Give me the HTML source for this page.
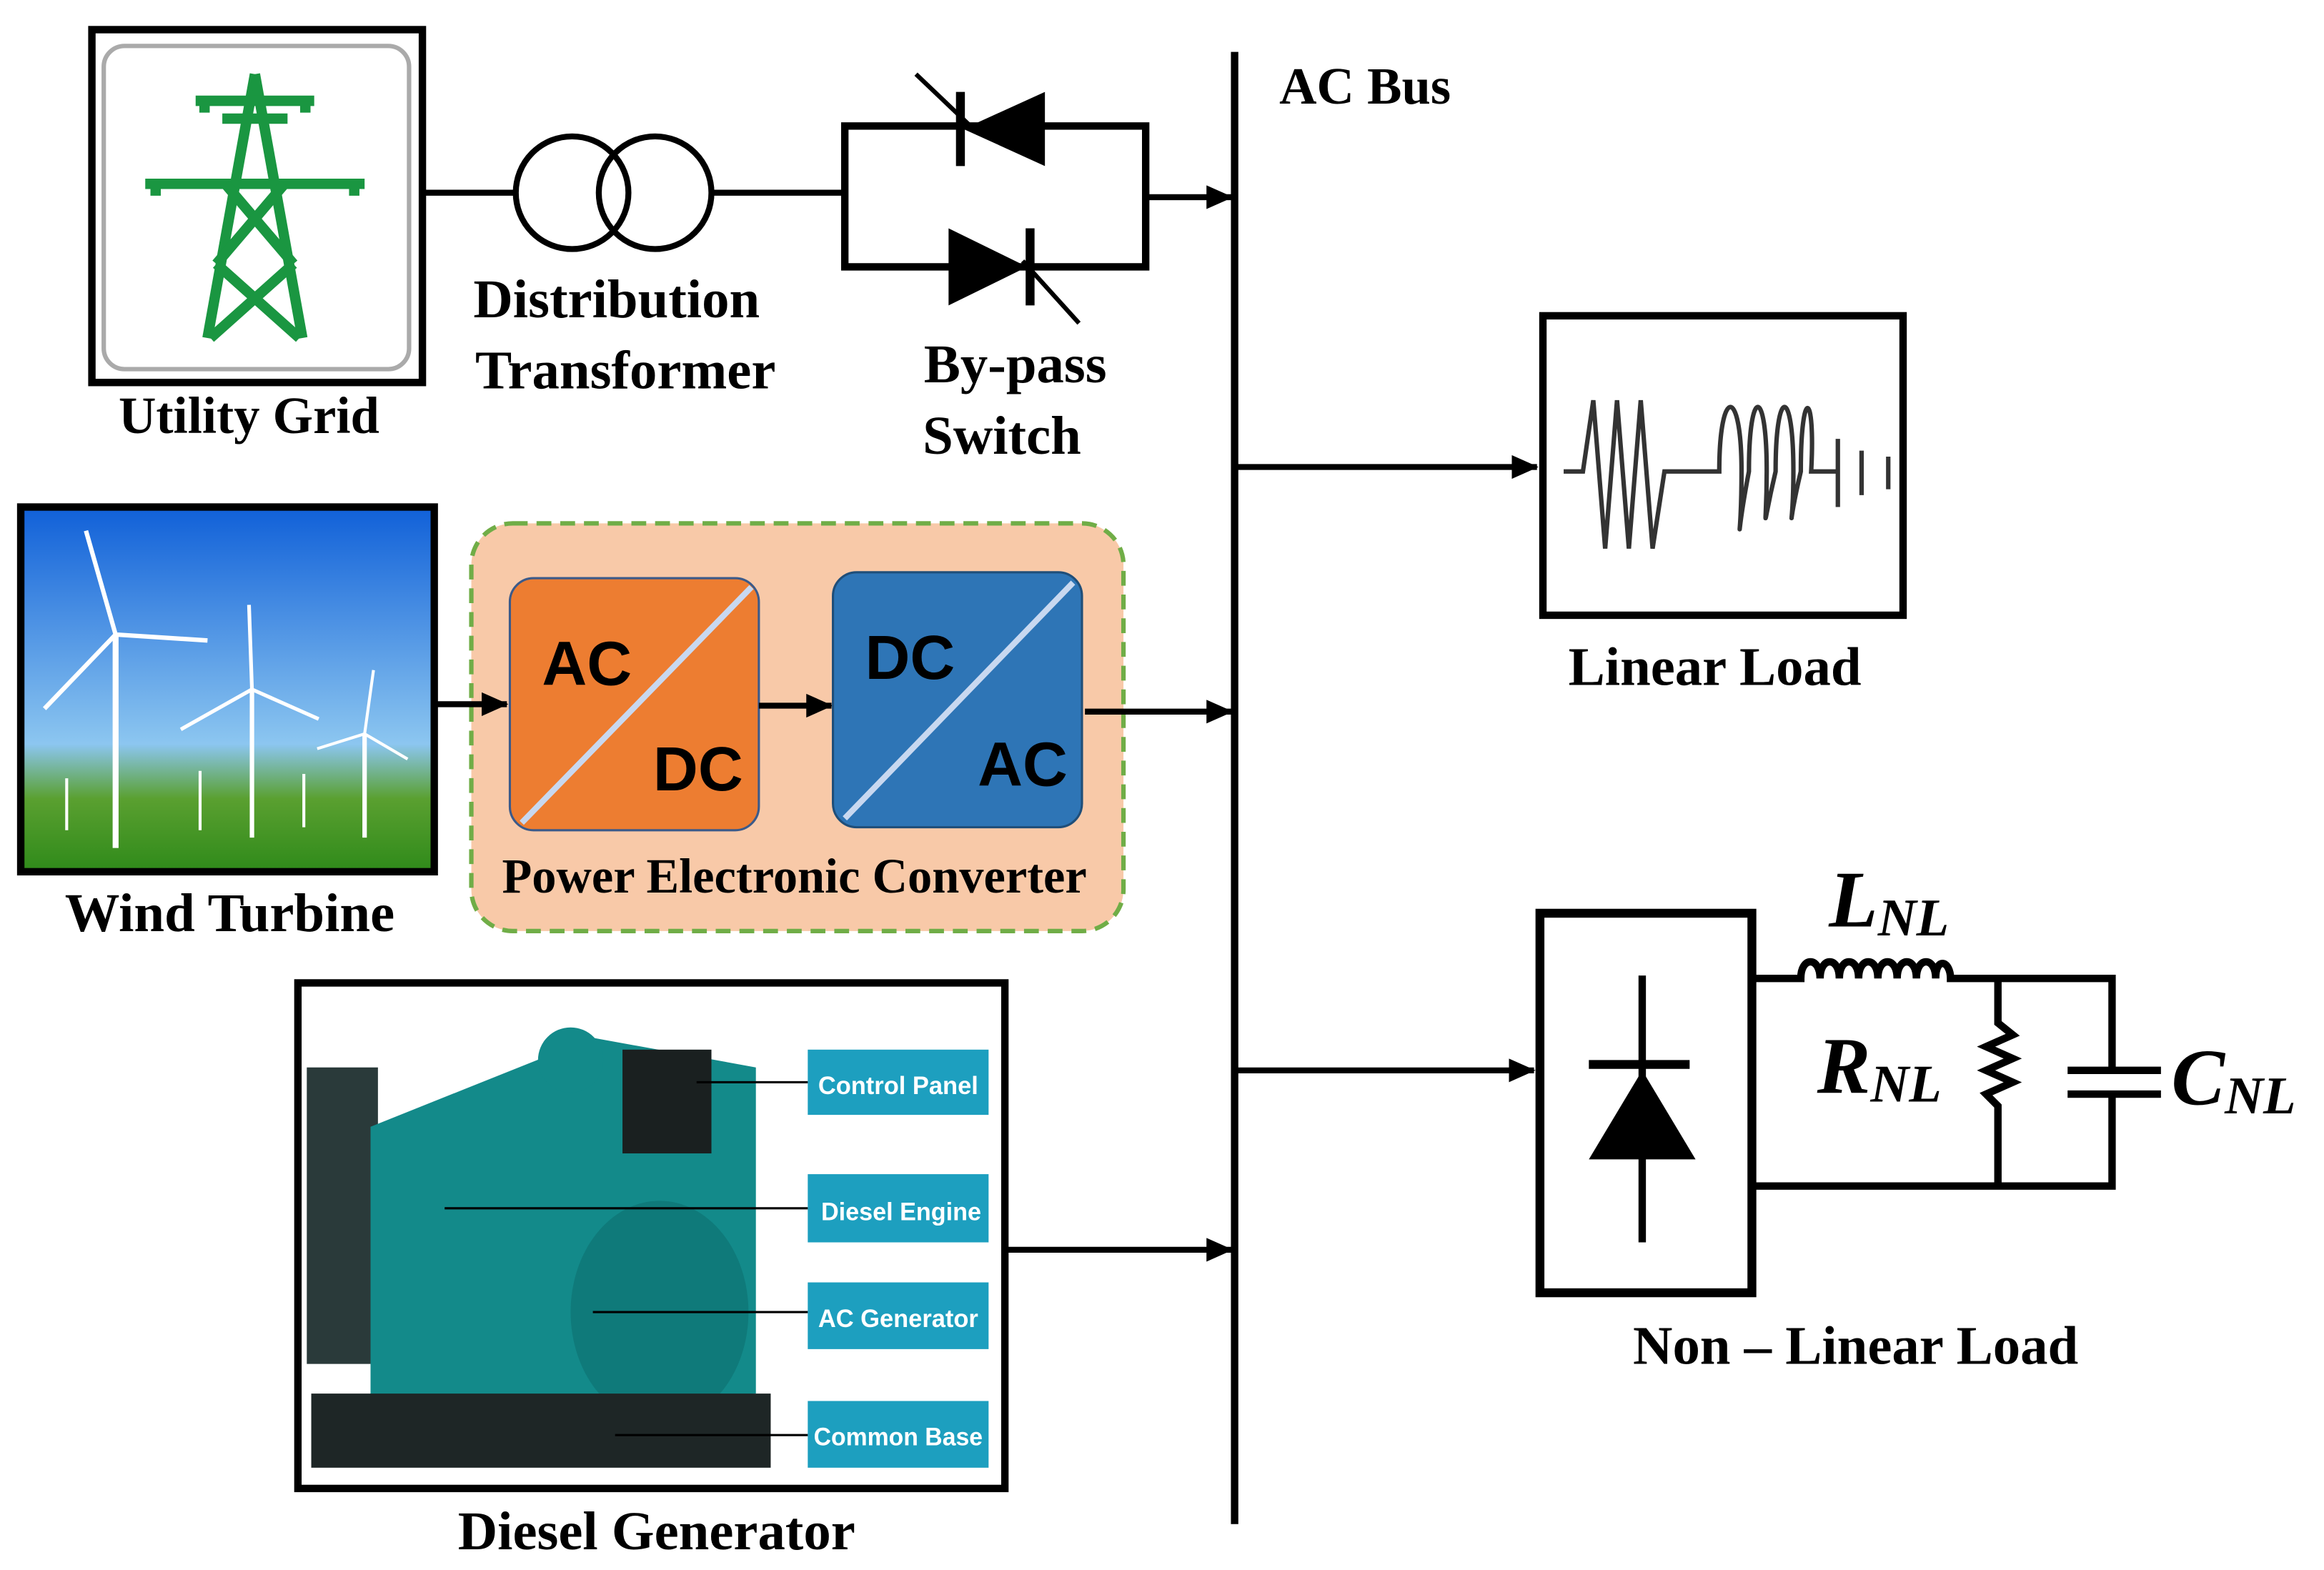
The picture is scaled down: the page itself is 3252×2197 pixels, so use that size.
<!DOCTYPE html>
<html><head><meta charset="utf-8"><style>
html,body{margin:0;padding:0;background:#fff;}
svg{display:block;}
.t{font-family:"Liberation Serif",serif;font-weight:bold;fill:#000;}
.s{font-family:"Liberation Sans",sans-serif;font-weight:bold;}
</style></head><body>
<svg width="3252" height="2197" viewBox="0 0 1568 1059" preserveAspectRatio="none" xmlns="http://www.w3.org/2000/svg">
<defs>
<marker id="ar2" markerWidth="18" markerHeight="16" refX="17" refY="8" orient="auto" markerUnits="userSpaceOnUse"><path d="M0,0 L18,8 L0,16 z" fill="#000"/></marker>
<linearGradient id="sky" x1="0" y1="0" x2="0" y2="1"><stop offset="0" stop-color="#1060d8"/><stop offset="0.65" stop-color="#8cc6f0"/><stop offset="0.8" stop-color="#5aa030"/><stop offset="1" stop-color="#2f8a1a"/></linearGradient>
</defs>
<!-- Utility grid -->
<rect x="62" y="20" width="223" height="238" fill="#fff" stroke="#000" stroke-width="5"/>
<rect x="70" y="31" width="206" height="218" rx="14" fill="#fff" stroke="#aaa" stroke-width="3"/>
<g stroke="#1a9641" stroke-width="7" fill="none">
<line x1="172" y1="50" x2="140" y2="228"/><line x1="172" y1="50" x2="204" y2="228"/>
<line x1="98" y1="124" x2="246" y2="124"/><line x1="132" y1="68" x2="212" y2="68"/>
<line x1="152" y1="124" x2="198" y2="178"/><line x1="192" y1="124" x2="146" y2="178"/>
<line x1="146" y1="178" x2="202" y2="228"/><line x1="198" y1="178" x2="142" y2="228"/>
<line x1="150" y1="80" x2="194" y2="80"/>
<line x1="105" y1="124" x2="105" y2="132"/><line x1="239" y1="124" x2="239" y2="132"/>
<line x1="138" y1="68" x2="138" y2="76"/><line x1="206" y1="68" x2="206" y2="76"/>
</g>
<text class="t" x="168" y="292" font-size="35" text-anchor="middle">Utility Grid</text>
<!-- transformer -->
<line x1="287" y1="130" x2="347" y2="130" stroke="#000" stroke-width="4"/>
<circle cx="386" cy="130" r="38" fill="none" stroke="#000" stroke-width="4"/>
<circle cx="442" cy="130" r="38" fill="none" stroke="#000" stroke-width="4"/>
<line x1="480" y1="130" x2="570" y2="130" stroke="#000" stroke-width="4"/>
<text class="t" x="416" y="214" font-size="37" text-anchor="middle">Distribution</text>
<text class="t" x="422" y="262" font-size="37" text-anchor="middle">Transformer</text>
<!-- bypass -->
<rect x="570" y="85" width="203" height="95" fill="none" stroke="#000" stroke-width="5"/>
<path d="M705,62 L705,112 L650,87 z" fill="#000"/><line x1="648" y1="62" x2="648" y2="112" stroke="#000" stroke-width="6"/>
<line x1="618" y1="50" x2="660" y2="90" stroke="#000" stroke-width="3"/>
<path d="M640,154 L640,206 L693,180 z" fill="#000"/><line x1="695" y1="154" x2="695" y2="206" stroke="#000" stroke-width="6"/>
<line x1="690" y1="176" x2="728" y2="218" stroke="#000" stroke-width="3"/>
<line x1="773" y1="133" x2="831" y2="133" stroke="#000" stroke-width="4" marker-end="url(#ar2)"/>
<text class="t" x="685" y="258" font-size="37" text-anchor="middle">By-pass</text>
<text class="t" x="676" y="306" font-size="37" text-anchor="middle">Switch</text>
<!-- AC bus -->
<line x1="833" y1="35" x2="833" y2="1028" stroke="#000" stroke-width="5"/>
<text class="t" x="921" y="70" font-size="35" text-anchor="middle">AC Bus</text>
<!-- linear load -->
<line x1="835" y1="315" x2="1037" y2="315" stroke="#000" stroke-width="4" marker-end="url(#ar2)"/>
<rect x="1041" y="213" width="243" height="202" fill="#fff" stroke="#000" stroke-width="5"/>
<path d="M1055,318 L1068,318 L1075,270 L1083,370 L1091,270 L1099,370 L1107,270 L1115,370 L1123,318 L1160,318 C1160,260 1175,260 1175,318 C1175,370 1170,370 1180,318 C1180,260 1192,260 1192,318 C1192,360 1188,360 1198,318 C1198,260 1210,260 1210,318 C1210,360 1205,360 1215,318 C1215,260 1225,262 1222,318 L1240,318" fill="none" stroke="#333" stroke-width="3"/>
<line x1="1240" y1="296" x2="1240" y2="342" stroke="#333" stroke-width="3"/><line x1="1256" y1="304" x2="1256" y2="334" stroke="#333" stroke-width="3"/><line x1="1274" y1="308" x2="1274" y2="330" stroke="#333" stroke-width="3"/>
<text class="t" x="1157" y="462" font-size="37" text-anchor="middle">Linear Load</text>
<!-- wind -->
<rect x="14" y="342" width="279" height="246" fill="url(#sky)" stroke="#000" stroke-width="5"/>
<g stroke="#fff" fill="none">
<line x1="78" y1="428" x2="78" y2="572" stroke-width="4"/><path d="M78,428 L58,358 M78,428 L140,432 M78,428 L30,478" stroke-width="3"/>
<line x1="170" y1="465" x2="170" y2="565" stroke-width="3"/><path d="M170,465 L168,408 M170,465 L215,485 M170,465 L122,492" stroke-width="2.5"/>
<line x1="246" y1="495" x2="246" y2="565" stroke-width="3"/><path d="M246,495 L252,452 M246,495 L275,512 M246,495 L214,505" stroke-width="2"/>
<line x1="135" y1="520" x2="135" y2="560" stroke-width="2"/><line x1="205" y1="522" x2="205" y2="558" stroke-width="2"/><line x1="45" y1="525" x2="45" y2="560" stroke-width="2"/>
</g>
<text class="t" x="155" y="628" font-size="37" text-anchor="middle">Wind Turbine</text>
<!-- converter -->
<rect x="318" y="353" width="440" height="275" rx="28" fill="#f8c9a8" stroke="#70ad47" stroke-width="3" stroke-dasharray="10,6"/>
<line x1="295" y1="475" x2="342" y2="475" stroke="#000" stroke-width="4" marker-end="url(#ar2)"/>
<rect x="344" y="390" width="168" height="170" rx="16" fill="#ed7d31" stroke="#3b5a8a" stroke-width="1.5"/>
<line x1="352" y1="555" x2="507" y2="396" stroke="#c8d8f0" stroke-width="4"/>
<text class="s" x="396" y="462" font-size="42" text-anchor="middle" fill="#000">AC</text>
<text class="s" x="471" y="533" font-size="42" text-anchor="middle" fill="#000">DC</text>
<line x1="512" y1="476" x2="561" y2="476" stroke="#000" stroke-width="4" marker-end="url(#ar2)"/>
<rect x="562" y="386" width="168" height="172" rx="16" fill="#2e75b6" stroke="#1f4e79" stroke-width="1.5"/>
<line x1="570" y1="552" x2="724" y2="393" stroke="#c8d8f0" stroke-width="4"/>
<text class="s" x="614" y="458" font-size="42" text-anchor="middle" fill="#000">DC</text>
<text class="s" x="690" y="530" font-size="42" text-anchor="middle" fill="#000">AC</text>
<line x1="732" y1="480" x2="831" y2="480" stroke="#000" stroke-width="4" marker-end="url(#ar2)"/>
<text class="t" x="536" y="602" font-size="33" text-anchor="middle">Power Electronic Converter</text>
<!-- diesel -->
<rect x="201" y="663" width="477" height="341" fill="#fff" stroke="#000" stroke-width="5"/>
<rect x="207" y="720" width="48" height="200" fill="#2a3a3a"/>
<path d="M250,760 L400,700 L510,720 L510,940 L250,960 z" fill="#138a8a"/>
<ellipse cx="445" cy="885" rx="60" ry="75" fill="#0f7a7a"/>
<rect x="420" y="708" width="60" height="70" fill="#1a2020"/>
<rect x="210" y="940" width="310" height="50" fill="#1e2626"/>
<circle cx="385" cy="715" r="22" fill="#138a8a"/>
<rect x="545" y="708" width="122" height="44" fill="#1d9fbf"/>
<rect x="545" y="792" width="122" height="46" fill="#1d9fbf"/>
<rect x="545" y="865" width="122" height="45" fill="#1d9fbf"/>
<rect x="545" y="945" width="122" height="45" fill="#1d9fbf"/>
<g stroke="#000" stroke-width="1.5"><line x1="470" y1="730" x2="545" y2="730"/><line x1="300" y1="815" x2="545" y2="815"/><line x1="400" y1="885" x2="545" y2="885"/><line x1="415" y1="968" x2="545" y2="968"/></g>
<g fill="#fff" font-family="Liberation Sans Narrow,Liberation Sans,sans-serif" font-weight="bold" font-size="17" text-anchor="middle">
<text x="606" y="738" textLength="108" lengthAdjust="spacingAndGlyphs">Control Panel</text><text x="608" y="823" textLength="108" lengthAdjust="spacingAndGlyphs">Diesel Engine</text><text x="606" y="895" textLength="108" lengthAdjust="spacingAndGlyphs">AC Generator</text><text x="606" y="975" textLength="114" lengthAdjust="spacingAndGlyphs">Common Base</text></g>
<text class="t" x="443" y="1045" font-size="37" text-anchor="middle">Diesel Generator</text>
<line x1="678" y1="843" x2="831" y2="843" stroke="#000" stroke-width="4" marker-end="url(#ar2)"/>
<!-- nonlinear -->
<line x1="835" y1="722" x2="1035" y2="722" stroke="#000" stroke-width="4" marker-end="url(#ar2)"/>
<rect x="1039" y="616" width="143" height="256" fill="#fff" stroke="#000" stroke-width="6"/>
<line x1="1108" y1="658" x2="1108" y2="838" stroke="#000" stroke-width="5"/>
<line x1="1072" y1="718" x2="1140" y2="718" stroke="#000" stroke-width="6"/>
<path d="M1108,722 L1072,782 L1144,782 z" fill="#000"/>
<g stroke="#000" stroke-width="5" fill="none">
<path d="M1182,660 L1215,660 C1215,645 1228,645 1228,660 C1228,645 1241,645 1241,660 C1241,645 1254,645 1254,660 C1254,645 1267,645 1267,660 C1267,645 1280,645 1280,660 C1280,645 1293,645 1293,660 C1293,645 1306,645 1306,660 C1306,645 1316,648 1316,660 L1425,660 L1425,722"/>
<path d="M1182,800 L1425,800 L1425,738"/>
<path d="M1348,660 L1348,690 L1358,698 L1340,706 L1358,714 L1340,722 L1358,730 L1340,738 L1348,746 L1348,800"/>
<line x1="1395" y1="722" x2="1458" y2="722"/><line x1="1395" y1="738" x2="1458" y2="738"/>
</g>
<text x="1234" y="625" font-family="Liberation Serif,serif" font-weight="bold" font-style="italic" font-size="54">L<tspan font-size="36" dy="6">NL</tspan></text>
<text x="1226" y="737" font-family="Liberation Serif,serif" font-weight="bold" font-style="italic" font-size="54">R<tspan font-size="36" dy="6">NL</tspan></text>
<text x="1465" y="745" font-family="Liberation Serif,serif" font-weight="bold" font-style="italic" font-size="54">C<tspan font-size="36" dy="6">NL</tspan></text>
<text class="t" x="1252" y="920" font-size="37" text-anchor="middle">Non – Linear Load</text>
</svg>
</body></html>
